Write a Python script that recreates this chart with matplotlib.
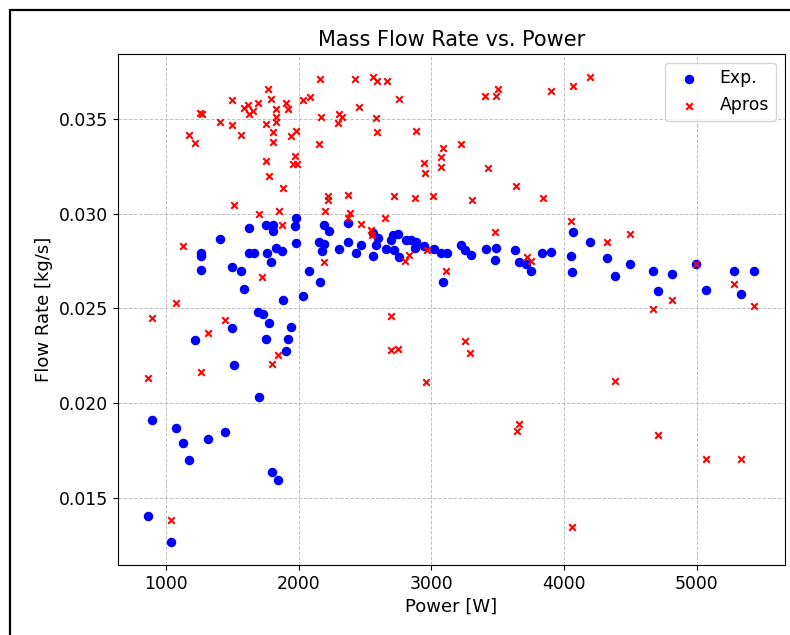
import numpy as np
import matplotlib
matplotlib.use("Agg")
import matplotlib.pyplot as plt
from matplotlib.patches import Rectangle

# Experimental measurements (power [W], mass flow rate [kg/s])
exp_power = [1623, 1410, 1751, 1804, 1804, 1977, 1973, 1977, 2189, 2232,
             2151, 2194, 2173, 2307, 1832, 1873, 1764, 1624, 1666, 1264,
             1264, 1790, 1264, 1498, 1566, 2081, 2161, 1588, 2030, 1885,
             1691, 1729, 1779, 1945, 1498, 1221, 1754, 1922, 1902, 1513,
             1704, 891, 1075, 1125, 1319, 1447, 1170, 1799, 1845, 864,
             1038, 2375, 2375, 2433, 2471, 2558, 2596, 2584, 2558, 2659,
             2709, 2747, 2697, 2722, 2810, 2848, 2885, 2873, 2948, 3023,
             3074, 3116, 2759, 3225, 3250, 3300, 3413, 3489, 3634, 3659,
             3836, 3903, 3086, 3481, 3715, 3753, 4066, 4198, 4049, 4323,
             4062, 4388, 4496, 4670, 4705, 4816, 4992, 5072, 5278, 5336,
             5434]
exp_flow = [0.02926, 0.02865, 0.02939, 0.02937, 0.02910, 0.02977, 0.02933, 0.02845, 0.02942, 0.02910,
            0.02852, 0.02838, 0.02800, 0.02812, 0.02819, 0.02800, 0.02792, 0.02790, 0.02790, 0.02792,
            0.02774, 0.02745, 0.02703, 0.02715, 0.02699, 0.02699, 0.02638, 0.02601, 0.02562, 0.02541,
            0.02481, 0.02469, 0.02424, 0.02400, 0.02395, 0.02333, 0.02340, 0.02337, 0.02273, 0.02201,
            0.02031, 0.01907, 0.01867, 0.01789, 0.01810, 0.01847, 0.01700, 0.01635, 0.01594, 0.01400,
            0.01267, 0.02952, 0.02852, 0.02794, 0.02835, 0.02897, 0.02870, 0.02835, 0.02777, 0.02812,
            0.02888, 0.02893, 0.02861, 0.02808, 0.02861, 0.02861, 0.02852, 0.02817, 0.02826, 0.02812,
            0.02794, 0.02794, 0.02769, 0.02835, 0.02805, 0.02782, 0.02812, 0.02820, 0.02808, 0.02745,
            0.02794, 0.02799, 0.02641, 0.02756, 0.02734, 0.02694, 0.02900, 0.02852, 0.02777, 0.02764,
            0.02691, 0.02669, 0.02733, 0.02699, 0.02593, 0.02680, 0.02733, 0.02597, 0.02699, 0.02574,
            0.02699]

# Apros simulation results
apros_power = [2161, 1769, 1498, 1789, 1590, 1621, 1691, 1658, 1623, 1902,
               1922, 1830, 2030, 2083, 1255, 1270, 1410, 1498, 1566, 1170,
               1221, 1751, 1830, 1830, 1804, 1804, 1943, 1983, 2171, 2307,
               2327, 2294, 2156, 1751, 1779, 1885, 1973, 1955, 1985, 2224,
               2224, 1513, 1704, 1854, 1872, 2196, 1125, 2194, 1726, 1075,
               891, 1447, 1317, 1842, 1802, 1261, 864, 1038, 2425, 2561,
               2591, 2664, 2759, 2458, 2584, 2591, 2885, 3403, 3489, 3501,
               3900, 3086, 3071, 3071, 3225, 2943, 2953, 3425, 3637, 3840,
               2375, 2716, 2880, 3016, 3310, 2375, 2388, 2652, 2471, 2543,
               2554, 3478, 2968, 2835, 2805, 3719, 3753, 3112, 2699, 2692,
               2747, 3252, 3293, 2956, 4066, 4198, 4049, 4323, 4494, 4992,
               5278, 4670, 4813, 5434, 4388, 3659, 3642, 4705, 5072, 5336,
               4062]
apros_flow = [0.03711, 0.03658, 0.03602, 0.03606, 0.03556, 0.03574, 0.03586, 0.03544, 0.03526, 0.03583,
              0.03553, 0.03553, 0.03597, 0.03616, 0.03533, 0.03524, 0.03483, 0.03465, 0.03416, 0.03416,
              0.03370, 0.03474, 0.03512, 0.03483, 0.03428, 0.03379, 0.03412, 0.03435, 0.03512, 0.03526,
              0.03509, 0.03480, 0.03368, 0.03278, 0.03197, 0.03137, 0.03306, 0.03261, 0.03261, 0.03095,
              0.03072, 0.03044, 0.03000, 0.03011, 0.02937, 0.03014, 0.02826, 0.02745, 0.02664, 0.02530,
              0.02449, 0.02439, 0.02368, 0.02255, 0.02206, 0.02163, 0.02129, 0.01379, 0.03710, 0.03720,
              0.03701, 0.03701, 0.03607, 0.03562, 0.03502, 0.03433, 0.03435, 0.03621, 0.03621, 0.03658,
              0.03649, 0.03347, 0.03296, 0.03247, 0.03366, 0.03266, 0.03216, 0.03243, 0.03146, 0.03084,
              0.03099, 0.03095, 0.03084, 0.03092, 0.03071, 0.02979, 0.03002, 0.02977, 0.02946, 0.02914,
              0.02888, 0.02900, 0.02810, 0.02782, 0.02750, 0.02771, 0.02750, 0.02697, 0.02460, 0.02277,
              0.02286, 0.02329, 0.02261, 0.02110, 0.03673, 0.03720, 0.02963, 0.02851, 0.02893, 0.02733,
              0.02627, 0.02498, 0.02543, 0.02514, 0.02118, 0.01886, 0.01849, 0.01833, 0.01706, 0.01703,
              0.01346]

fig = plt.figure(figsize=(7.9, 6.35), dpi=100)
ax = fig.add_axes([0.149, 0.1104, 0.8441, 0.8046])

ax.scatter(exp_power, exp_flow, s=34, c="blue", marker="o", label="Exp.", zorder=3)
ax.scatter(apros_power, apros_flow, s=22, c="red", marker="x", linewidths=1.5,
           label="Apros", zorder=4)

ax.set_title("Mass Flow Rate vs. Power", fontsize=15)
ax.set_xlabel("Power [W]", fontsize=13)
ax.set_ylabel("Flow Rate [kg/s]", fontsize=13)
ax.tick_params(labelsize=12.4)
ax.set_xticks([1000, 2000, 3000, 4000, 5000])
ax.set_yticks([0.015, 0.020, 0.025, 0.030, 0.035])
ax.grid(True, linestyle="--", linewidth=0.7, color="#b0b0b0", alpha=0.8)
ax.legend(loc="upper right", fontsize=12.4)

# black frame round the figure (cropped screenshot look)
fig.patches.append(Rectangle((10 / 790, -0.1), 1.2, 1 - 10 / 635 + 0.1,
                             transform=fig.transFigure, fill=False,
                             edgecolor="black", linewidth=1.6))

fig.savefig("out.png", dpi=100)
